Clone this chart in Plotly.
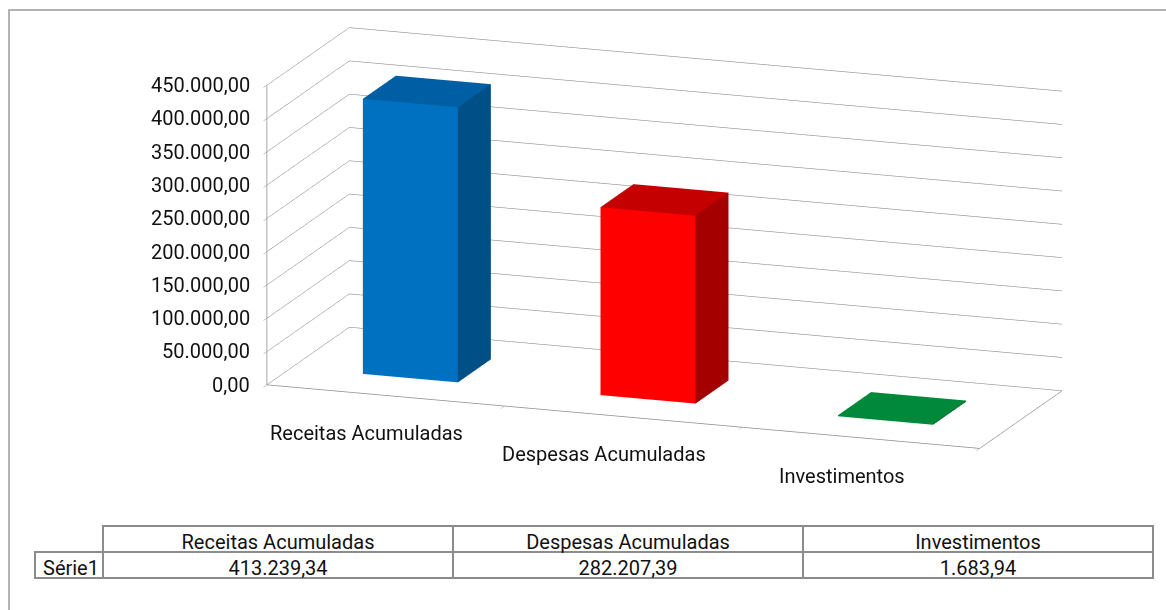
import plotly.graph_objects as go

categories = ["Receitas Acumuladas", "Despesas Acumuladas", "Investimentos"]
values = [413239.34, 282207.39, 1683.94]
series_name = "Série1"
z_ticks = [0, 50000, 100000, 150000, 200000, 250000, 300000, 350000, 400000, 450000]
front_colors = ["#0070C0", "#FF0000", "#00893A"]
side_colors = ["#004F87", "#A40000", "#006A2C"]
top_colors = ["#005EA4", "#C40000", "#00893A"]


def br(v):
    s = f"{v:,.2f}"
    return s.replace(",", "X").replace(".", ",").replace("X", ".")


FONT = "Roboto, sans-serif"
GRID = "#8c8c8c"
TXT = "#111111"
FS = 20

fig = go.Figure()

bw = 0.2  # half-width of bar in category units
d0, d1 = 0.3, 0.7
for i, (cat, v) in enumerate(zip(categories, values)):
    x0, x1 = i + 0.5 - bw, i + 0.5 + bw
    xs = [x0, x1, x1, x0, x0, x1, x1, x0]
    ys = [d0, d0, d1, d1, d0, d0, d1, d1]
    zs = [0, 0, 0, 0, v, v, v, v]
    I = [0, 0, 4, 4, 0, 0, 3, 3, 0, 0, 1, 1]
    J = [1, 2, 5, 6, 1, 5, 2, 6, 3, 7, 2, 6]
    K = [2, 3, 6, 7, 5, 4, 6, 7, 7, 4, 6, 5]
    fc = [side_colors[i]] * 2 + [top_colors[i]] * 2 + [front_colors[i]] * 2 + \
         [side_colors[i]] * 6
    fig.add_trace(go.Mesh3d(
        x=xs, y=ys, z=zs, i=I, j=J, k=K, facecolor=fc, flatshading=True,
        lighting=dict(ambient=1, diffuse=0, specular=0, roughness=1, fresnel=0),
        hovertext=f"{cat}: {br(v)}", hoverinfo="text", showscale=False, name=series_name,
    ))

axis_common = dict(showbackground=False, gridcolor=GRID, linecolor=GRID, linewidth=1.5,
                   gridwidth=1.2, zeroline=False, showspikes=False, title=dict(text=""),
                   tickcolor=GRID, showticklabels=False)

annotations = []
for t in z_ticks:
    annotations.append(dict(x=0, y=0, z=t, text=br(t), showarrow=False, xanchor="right",
                            xshift=-15, font=dict(family=FONT, size=FS, color=TXT)))
for i, cat in enumerate(categories):
    annotations.append(dict(x=i + 0.5, y=0, z=0, text=cat, showarrow=False,
                            yshift=-38, xshift=-19, font=dict(family=FONT, size=FS, color=TXT)))

fig.update_layout(
    width=1166, height=610,
    margin=dict(l=0, r=0, t=0, b=0),
    paper_bgcolor="white",
    showlegend=False,
    scene=dict(
        domain=dict(x=[0.2, 0.94], y=[0.22, 1.0]),
        xaxis=dict(axis_common, range=[0, 3], tickvals=[0, 1, 2, 3], showgrid=False,
                   showline=True, ticks="outside", ticklen=8),
        yaxis=dict(axis_common, range=[0, 1], showgrid=False, showline=True, ticks=""),
        zaxis=dict(axis_common, range=[0, 450000], tickvals=z_ticks, showgrid=True,
                   showline=True, ticks="outside", ticklen=8),
        aspectmode="manual", aspectratio=dict(x=3.18, y=1.03, z=1.30),
        camera=dict(eye=dict(x=0.60, y=-1.68, z=0.46), up=dict(x=0, y=0, z=1),
                    center=dict(x=0, y=0, z=0), projection=dict(type="orthographic")),
        annotations=annotations,
    ),
)

fig.add_trace(go.Table(
    domain=dict(x=[35 / 1166, 1153 / 1166], y=[0.05, (610 - 526) / 610]),
    columnwidth=[68, 350, 350, 350],
    header=dict(values=[""] + categories, height=26,
                line=dict(color=["rgba(0,0,0,0)", GRID, GRID, GRID], width=1.5),
                fill=dict(color="rgba(0,0,0,0)"), align=["left", "center", "center", "center"],
                font=dict(family=FONT, size=FS, color=TXT)),
    cells=dict(values=[[series_name]] + [[br(v)] for v in values], height=26,
               line=dict(color=GRID, width=1.5), fill=dict(color="white"),
               align=["left", "center", "center", "center"],
               font=dict(family=FONT, size=FS, color=TXT)),
))

fig.add_shape(type="rect", xref="paper", yref="paper", x0=9 / 1166, x1=1.02,
              y0=-0.05, y1=1 - 10 / 610, line=dict(color="#9a9a9a", width=1.5),
              fillcolor="rgba(0,0,0,0)", layer="below")

fig.write_html("out.html", config={"displayModeBar": False},
               post_script="document.body.style.margin='0';")
